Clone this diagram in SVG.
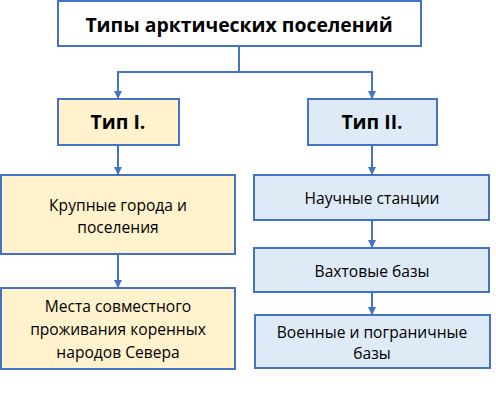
<svg xmlns="http://www.w3.org/2000/svg" width="496" height="405" viewBox="0 0 496 405">
<defs>
<marker id="arr" viewBox="0 0 8 8" refX="7" refY="4" markerWidth="8" markerHeight="8" markerUnits="userSpaceOnUse" orient="auto">
<path d="M0,0 L8,4 L0,8 Z" fill="#4472c4"/>
</marker>
<style>
.box{stroke:#4472c4;stroke-width:2}
.w{fill:#ffffff}
.y{fill:#fff2cc}
.b{fill:#deebf7}
text{font-family:"Open Sans","Noto Sans","Liberation Sans",sans-serif;fill:#000;text-anchor:middle}
.t{font-size:15.6px}
.h{font-weight:bold;font-size:19.4px}
.c{stroke:#4472c4;stroke-width:2;fill:none}
</style>
</defs>
<rect width="496" height="405" fill="#ffffff"/>
<g id="connectors">
<path class="c" d="M239,46 V72 M118,72 H372"/>
<path class="c" d="M118,71 V98" marker-end="url(#arr)"/>
<path class="c" d="M372,71 V98" marker-end="url(#arr)"/>
<path class="c" d="M118,145 V174" marker-end="url(#arr)"/>
<path class="c" d="M372,145 V174" marker-end="url(#arr)"/>
<path class="c" d="M118,254 V287" marker-end="url(#arr)"/>
<path class="c" d="M372,220 V247" marker-end="url(#arr)"/>
<path class="c" d="M372,292 V314" marker-end="url(#arr)"/>
</g>
<g id="root">
<rect class="box w" x="58" y="1" width="363" height="45"/>
<text class="h" x="239" y="32">Типы арктических поселений</text>
</g>
<g id="type1">
<rect class="box y" x="58" y="99" width="121" height="46"/>
<text class="h" x="118" y="129">Тип I.</text>
</g>
<g id="type2">
<rect class="box b" x="308" y="99" width="129" height="46"/>
<text class="h" x="372" y="129">Тип II.</text>
</g>
<g id="cities">
<rect class="box y" x="1" y="175" width="234" height="79"/>
<text class="t" x="118" y="211">Крупные города и</text>
<text class="t" x="118" y="233">поселения</text>
</g>
<g id="indigenous">
<rect class="box y" x="1" y="288" width="234" height="81"/>
<text class="t" x="118" y="312">Места совместного</text>
<text class="t" x="118" y="335">проживания коренных</text>
<text class="t" x="118" y="358">народов Севера</text>
</g>
<g id="science">
<rect class="box b" x="254" y="175" width="235" height="45"/>
<text class="t" x="372" y="204">Научные станции</text>
</g>
<g id="shift">
<rect class="box b" x="254" y="248" width="235" height="44"/>
<text class="t" x="372" y="277">Вахтовые базы</text>
</g>
<g id="military">
<rect class="box b" x="255" y="315" width="235" height="53"/>
<text class="t" x="372" y="338">Военные и пограничные</text>
<text class="t" x="372" y="359">базы</text>
</g>
</svg>
